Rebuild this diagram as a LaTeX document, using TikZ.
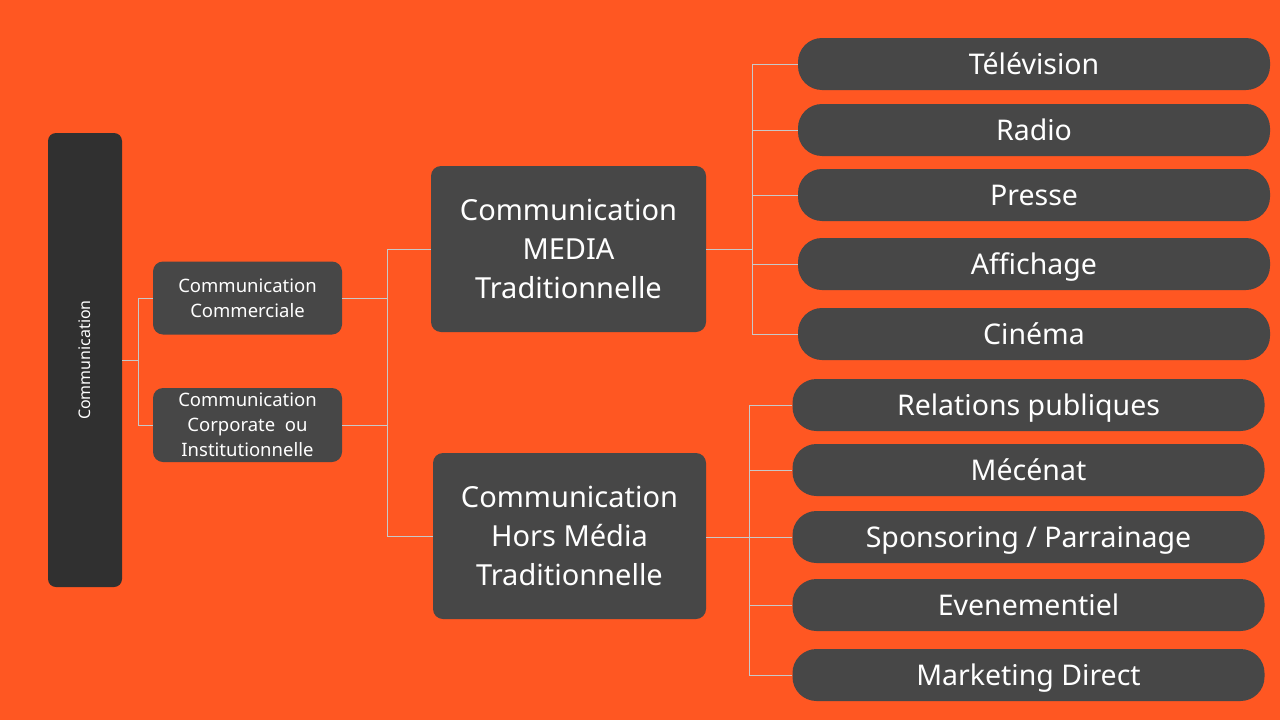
\documentclass[tikz,border=0pt]{standalone}
\usepackage{fontspec}
\setmainfont{Noto Sans}
\usetikzlibrary{positioning}
\definecolor{fond}{HTML}{FF5722}
\definecolor{boite}{HTML}{474747}
\definecolor{sombre}{HTML}{303030}
\definecolor{trait}{HTML}{C8C8C8}
\tikzset{
  box/.style={fill=boite, text=white, rounded corners=10pt, align=center, inner sep=0pt},
  pill/.style={fill=boite, text=white, rounded corners=24pt, minimum width=472pt, minimum height=52pt, inner sep=0pt, text height=24pt, text depth=4pt, font=\fontsize{28.5}{32}\selectfont},
  lien/.style={draw=trait, line width=1pt}
}
\begin{document}
\begin{tikzpicture}[x=1pt, y=-1pt]
\fill[fond] (0,0) rectangle (1280,720);

\node[box, fill=sombre, minimum width=74pt, minimum height=454pt, rounded corners=8pt] (comm) at (85,360) {};
\node[text=white, rotate=90, font=\fontsize{16}{18}\selectfont] (commtxt) at (85,360) {Communication};

\node[box, minimum width=189pt, minimum height=73pt, font=\fontsize{18.5}{25}\selectfont] (commerc) at (247.5,298) {Communication\\Commerciale};
\node[box, minimum width=189pt, minimum height=74pt, font=\fontsize{18.5}{25}\selectfont] (corpo) at (247.5,425) {Communication\\Corporate~ ou\\Institutionnelle};

\node[box, minimum width=275pt, minimum height=166pt, font=\fontsize{29}{39}\selectfont] (media) at (568.5,249) {Communication\\MEDIA\\Traditionnelle};
\node[box, minimum width=273pt, minimum height=166pt, font=\fontsize{29}{39}\selectfont] (hors) at (569.5,536) {Communication\\Hors Média\\Traditionnelle};

\node[pill] (tele) at (1034,64) {Télévision};
\node[pill] (radio) at (1034,130) {Radio};
\node[pill] (presse) at (1034,195) {Presse};
\node[pill] (affi) at (1034,264) {Affichage};
\node[pill] (cine) at (1034,334) {Cinéma};

\node[pill] (relat) at (1028.5,405) {Relations publiques};
\node[pill] (mecen) at (1028.5,470) {Mécénat};
\node[pill] (spons) at (1028.5,537) {Sponsoring / Parrainage};
\node[pill] (even) at (1028.5,605) {Evenementiel};
\node[pill] (market) at (1028.5,675) {Marketing Direct};

% liens
\coordinate (j1) at (138,360);
\draw[lien] (comm.east |- j1) -- (j1);
\draw[lien] (j1) |- (commerc.west);
\draw[lien] (j1) |- (corpo.west);

\coordinate (j2) at (387,298);
\draw[lien] (commerc.east) -- (j2);
\draw[lien] (corpo.east) -| (j2);
\draw[lien] (j2) |- (media.west);
\draw[lien] (j2) |- (hors.west);

\coordinate (j3) at (752,249);
\draw[lien] (media.east) -- (j3);
\foreach \n in {tele,radio,presse,affi,cine}
  \draw[lien] (j3) |- (\n.west);

\coordinate (j4) at (749,537);
\draw[lien] (hors.east |- j4) -- (j4);
\foreach \n in {relat,mecen,spons,even,market}
  \draw[lien] (j4) |- (\n.west);
\end{tikzpicture}
\end{document}
